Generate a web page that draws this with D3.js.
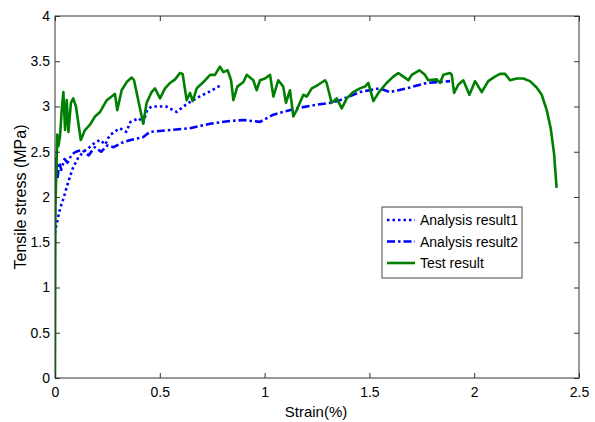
<!DOCTYPE html>
<html>
<head>
<meta charset="utf-8">
<script src="https://cdn.jsdelivr.net/npm/d3@7"></script>
<style>
  body { margin: 0; background: #fff; }
  svg { font-family: "Liberation Sans", Arial, sans-serif; }
</style>
</head>
<body>
<svg id="chart" width="595" height="422"></svg>
<script>
// strain (%) / stress (MPa)
const analysis1 = [
  [0, 1.6], [0.005, 1.67], [0.015, 1.78], [0.025, 1.88], [0.04, 1.98], [0.056, 2.11],
  [0.072, 2.23], [0.087, 2.33], [0.11, 2.43], [0.135, 2.5], [0.16, 2.54], [0.19, 2.6],
  [0.215, 2.63], [0.24, 2.58], [0.26, 2.68], [0.29, 2.73], [0.31, 2.76], [0.34, 2.72],
  [0.36, 2.83], [0.4, 2.87], [0.42, 2.82], [0.44, 2.96], [0.46, 3.0], [0.5, 3.0],
  [0.53, 3.0], [0.58, 2.94], [0.63, 3.03], [0.69, 3.11], [0.75, 3.18], [0.795, 3.24]
];

const analysis2 = [
  [0, 1.8], [0.003, 2.45], [0.012, 2.2], [0.02, 2.38], [0.03, 2.3], [0.045, 2.42],
  [0.06, 2.38], [0.08, 2.47], [0.1, 2.5], [0.13, 2.52], [0.16, 2.46], [0.19, 2.55],
  [0.22, 2.5], [0.25, 2.57], [0.28, 2.55], [0.32, 2.6], [0.36, 2.63], [0.42, 2.66],
  [0.453, 2.72], [0.549, 2.74], [0.644, 2.76], [0.74, 2.81], [0.835, 2.84], [0.9, 2.85],
  [0.978, 2.83], [1.042, 2.91], [1.153, 2.98], [1.248, 3.02], [1.312, 3.04], [1.36, 3.07],
  [1.455, 3.16], [1.55, 3.2], [1.598, 3.16], [1.678, 3.2], [1.773, 3.26], [1.885, 3.28]
];

const testResult = [
  [0, 0], [0.002, 1.89], [0.011, 2.69], [0.016, 2.56], [0.024, 2.67], [0.032, 2.96],
  [0.04, 3.16], [0.048, 2.74], [0.056, 3.07], [0.064, 2.72], [0.076, 3.04], [0.087, 3.09],
  [0.1, 3.0], [0.123, 2.63], [0.143, 2.74], [0.167, 2.8], [0.191, 2.89], [0.215, 2.94],
  [0.247, 3.07], [0.27, 3.11], [0.286, 3.14], [0.297, 2.96], [0.318, 3.18], [0.342, 3.27],
  [0.366, 3.32], [0.377, 3.29], [0.421, 2.81], [0.437, 3.04], [0.461, 3.16], [0.477, 3.2],
  [0.501, 3.09], [0.525, 3.2], [0.549, 3.26], [0.573, 3.3], [0.596, 3.37], [0.609, 3.36],
  [0.628, 3.07], [0.644, 3.15], [0.657, 3.06], [0.676, 3.2], [0.708, 3.27], [0.74, 3.35],
  [0.763, 3.35], [0.787, 3.44], [0.803, 3.38], [0.824, 3.4], [0.84, 3.29], [0.851, 3.07],
  [0.87, 3.22], [0.899, 3.27], [0.915, 3.35], [0.946, 3.29], [0.962, 3.18], [0.978, 3.29],
  [1.002, 3.31], [1.026, 3.35], [1.042, 3.11], [1.065, 3.29], [1.089, 3.22], [1.102, 3.04],
  [1.121, 3.18], [1.137, 2.89], [1.153, 2.96], [1.185, 3.13], [1.201, 3.11], [1.225, 3.2],
  [1.256, 3.24], [1.288, 3.29], [1.296, 3.26], [1.32, 3.04], [1.344, 3.09], [1.368, 2.98],
  [1.392, 3.09], [1.423, 3.16], [1.455, 3.2], [1.479, 3.22], [1.495, 3.26], [1.519, 3.06],
  [1.543, 3.15], [1.582, 3.26], [1.614, 3.33], [1.638, 3.37], [1.662, 3.33], [1.686, 3.29],
  [1.702, 3.35], [1.738, 3.4], [1.765, 3.35], [1.781, 3.29], [1.821, 3.3], [1.837, 3.26],
  [1.853, 3.35], [1.885, 3.37], [1.893, 3.35], [1.904, 3.15], [1.924, 3.24], [1.948, 3.29],
  [1.977, 3.13], [2.004, 3.28], [2.036, 3.16], [2.067, 3.28], [2.099, 3.33], [2.123, 3.36],
  [2.147, 3.36], [2.171, 3.29], [2.203, 3.31], [2.234, 3.31], [2.266, 3.28], [2.298, 3.21],
  [2.322, 3.13], [2.346, 2.96], [2.365, 2.76], [2.381, 2.48], [2.393, 2.1]
];

const xTicks = [0, 0.5, 1, 1.5, 2, 2.5];
const yTicks = [0, 0.5, 1, 1.5, 2, 2.5, 3, 3.5, 4];

const series = [
  { name: "Analysis result1", data: analysis1, color: "#0000ff", dash: "2.5,3" },
  { name: "Analysis result2", data: analysis2, color: "#0000ff", dash: "8,3,2.5,3" },
  { name: "Test result", data: testResult, color: "#008000", dash: null }
];

const svg = d3.select("#chart");
const plot = { left: 55, right: 579, top: 16, bottom: 378 };

const x = d3.scaleLinear().domain([0, 2.5]).range([plot.left, plot.right]);
const y = d3.scaleLinear().domain([0, 4]).range([plot.bottom, plot.top]);

const line = d3.line().x(d => x(d[0])).y(d => y(d[1]));

svg.append("clipPath").attr("id", "plot")
  .append("rect").attr("x", plot.left).attr("y", plot.top)
  .attr("width", plot.right - plot.left).attr("height", plot.bottom - plot.top);

svg.append("g").attr("clip-path", "url(#plot)")
  .selectAll("path")
  .data(series)
  .enter()
  .append("path")
    .attr("d", d => line(d.data))
    .attr("fill", "none")
    .attr("stroke", d => d.color)
    .attr("stroke-width", 2.6)
    .attr("stroke-linejoin", "round")
    .attr("stroke-dasharray", d => d.dash);

// matlab style box with inward ticks
const axisColor = "#333";
const tickLen = 5;
const styleAxis = g => {
  g.select(".domain").remove();
  g.selectAll(".tick line").attr("stroke", axisColor);
  g.selectAll(".tick text").attr("fill", "#000").style("font-size", "14px");
};

svg.append("g")
  .attr("transform", `translate(0,${plot.bottom})`)
  .call(d3.axisBottom(x).tickValues(xTicks).tickFormat(d3.format("")).tickSizeInner(-tickLen).tickPadding(9))
  .call(styleAxis);

svg.append("g")
  .attr("transform", `translate(0,${plot.top})`)
  .call(d3.axisTop(x).tickValues(xTicks).tickFormat("").tickSizeInner(-tickLen))
  .call(styleAxis);

svg.append("g")
  .attr("transform", `translate(${plot.left},0)`)
  .call(d3.axisLeft(y).tickValues(yTicks).tickFormat(d3.format("")).tickSizeInner(-tickLen).tickPadding(5))
  .call(styleAxis);

svg.append("g")
  .attr("transform", `translate(${plot.right},0)`)
  .call(d3.axisRight(y).tickValues(yTicks).tickFormat("").tickSizeInner(-tickLen))
  .call(styleAxis);

svg.append("rect")
  .attr("x", plot.left).attr("y", plot.top)
  .attr("width", plot.right - plot.left).attr("height", plot.bottom - plot.top)
  .attr("fill", "none").attr("stroke", axisColor).attr("stroke-width", 1);

svg.append("text")
  .attr("x", (plot.left + plot.right) / 2 - 1).attr("y", 417)
  .attr("text-anchor", "middle")
  .style("font-size", "15px")
  .text("Strain(%)");

svg.append("text")
  .attr("transform", `translate(26,${(plot.top + plot.bottom) / 2}) rotate(-90)`)
  .attr("text-anchor", "middle")
  .style("font-size", "16px")
  .text("Tensile stress (MPa)");

// legend
const legend = svg.append("g").attr("transform", "translate(382,207)");
legend.append("rect")
  .attr("width", 140).attr("height", 71)
  .attr("fill", "#fff").attr("stroke", "#444").attr("stroke-width", 1);

const rows = legend.selectAll(".row")
  .data(series)
  .enter()
  .append("g")
    .attr("class", "row")
    .attr("transform", (d, i) => `translate(0,${13 + i * 21.5})`);

rows.append("line")
  .attr("x1", 5).attr("x2", 33)
  .attr("stroke", d => d.color)
  .attr("stroke-width", 2.6)
  .attr("stroke-dasharray", d => d.dash);

rows.append("text")
  .attr("x", 38).attr("y", 5)
  .style("font-size", "14px")
  .text(d => d.name);
</script>
</body>
</html>
